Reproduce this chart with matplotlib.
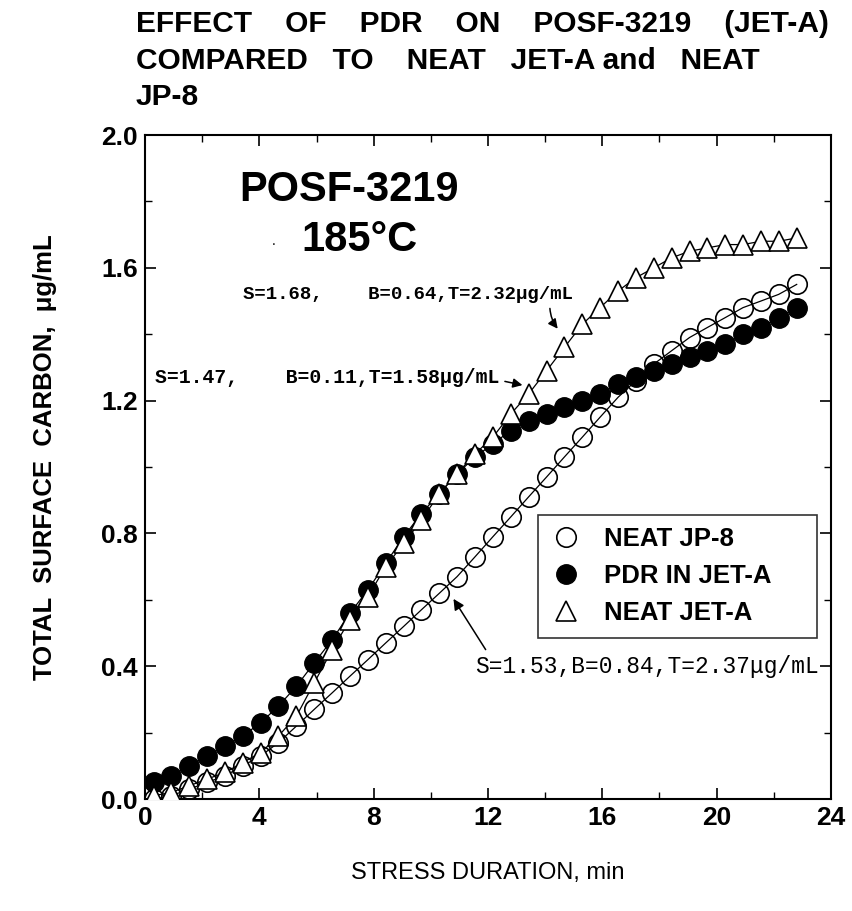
import numpy as np
import matplotlib
matplotlib.use('Agg')
from matplotlib import pyplot as plt
from matplotlib.ticker import MultipleLocator, FormatStrFormatter

plt.rcParams['font.family'] = ['Liberation Sans', 'DejaVu Sans']

# stress duration, min
t = [0.3, 0.92, 1.55, 2.17, 2.8, 3.42, 4.05, 4.67, 5.3, 5.92, 6.55, 7.17,
     7.8, 8.42, 9.05, 9.67, 10.3, 10.92, 11.55, 12.17, 12.8, 13.42, 14.05,
     14.67, 15.3, 15.92, 16.55, 17.17, 17.8, 18.42, 19.05, 19.67, 20.3,
     20.92, 21.55, 22.17, 22.8]

# total surface carbon, ug/mL
jp8 = [0.00, 0.01, 0.03, 0.05, 0.07, 0.10, 0.13, 0.17, 0.22, 0.27, 0.32, 0.37,
       0.42, 0.47, 0.52, 0.57, 0.62, 0.67, 0.73, 0.79, 0.85, 0.91, 0.97,
       1.03, 1.09, 1.15, 1.21, 1.26, 1.31, 1.35, 1.39, 1.42, 1.45,
       1.48, 1.50, 1.52, 1.55]
pdr = [0.05, 0.07, 0.10, 0.13, 0.16, 0.19, 0.23, 0.28, 0.34, 0.41, 0.48, 0.56,
       0.63, 0.71, 0.79, 0.86, 0.92, 0.98, 1.03, 1.07, 1.11, 1.14, 1.16,
       1.18, 1.20, 1.22, 1.25, 1.27, 1.29, 1.31, 1.33, 1.35, 1.37,
       1.40, 1.42, 1.45, 1.48]
jeta = [0.01, 0.02, 0.04, 0.06, 0.08, 0.11, 0.14, 0.19, 0.25, 0.35, 0.45, 0.54,
        0.61, 0.70, 0.77, 0.84, 0.92, 0.98, 1.04, 1.09, 1.16, 1.22, 1.29,
        1.36, 1.43, 1.48, 1.53, 1.57, 1.60, 1.63, 1.65, 1.66, 1.67,
        1.67, 1.68, 1.68, 1.69]

labels = ['NEAT JP-8', 'PDR IN JET-A', 'NEAT JET-A']
fits = ['S=1.68,    B=0.64,T=2.32\u03bcg/mL',
        'S=1.47,    B=0.11,T=1.58\u03bcg/mL',
        'S=1.53,B=0.84,T=2.37\u03bcg/mL']

fig = plt.figure(figsize=(8.53, 9.11), dpi=100)
ax = fig.add_axes([0.170, 0.1229, 0.8042, 0.7289])

ms = 14
ax.plot(t, jp8, color='k', lw=0.9, marker='o', ms=ms, mfc='none',
        mec='k', mew=1.2, label=labels[0], zorder=3)
ax.plot(t, pdr, color='k', lw=0.9, marker='o', ms=ms, mfc='k',
        mec='k', label=labels[1], zorder=4)
ax.plot(t, jeta, color='k', lw=0.9, marker='^', ms=ms + 1, mfc='white',
        mec='k', mew=1.2, label=labels[2], zorder=5)

ax.set_xlim(0, 24)
ax.set_ylim(0, 2.0)
ax.xaxis.set_major_locator(MultipleLocator(4))
ax.xaxis.set_minor_locator(MultipleLocator(2))
ax.yaxis.set_major_locator(MultipleLocator(0.4))
ax.yaxis.set_minor_locator(MultipleLocator(0.2))
ax.yaxis.set_major_formatter(FormatStrFormatter('%.1f'))
ax.tick_params(which='both', direction='in', top=True, right=True)
ax.tick_params(which='major', length=8, width=1.2, labelsize=19, pad=5)
ax.tick_params(which='minor', length=5, width=1)
for lab in ax.get_xticklabels() + ax.get_yticklabels():
    lab.set_fontweight('bold')
for s in ax.spines.values():
    s.set_linewidth(1.5)

ax.set_xlabel('STRESS DURATION, min', fontsize=17)
ax.xaxis.set_label_coords(0.5, -0.095)
ax.set_ylabel('TOTAL  SURFACE  CARBON,  \u03bcg/mL', fontsize=18.5,
              fontweight='bold')
ax.yaxis.set_label_coords(-0.128, 0.515)

fig.text(0.159, 0.989, 'EFFECT    OF    PDR    ON    POSF-3219    (JET-A)\n'
         'COMPARED   TO    NEAT   JET-A and   NEAT\nJP-8',
         fontsize=21.5, fontweight='bold', va='top', ha='left',
         linespacing=1.39)

ax.text(3.3, 1.80, 'POSF-3219', fontsize=30, fontweight='bold', ha='left')
ax.text(7.5, 1.65, '185\u00b0C', fontsize=30, fontweight='bold', ha='center')
ax.text(4.5, 1.67, '.', fontsize=10, ha='center')

mono = ['Liberation Mono', 'DejaVu Sans Mono']
ax.annotate(fits[0], xy=(14.5, 1.41), xytext=(3.43, 1.52), fontsize=13.7,
            family=mono, fontweight='bold', va='center',
            arrowprops=dict(arrowstyle='-|>', color='k', lw=1.1,
                            relpos=(0.93, 0.0), mutation_scale=14,
                            connectionstyle='arc3,rad=0.2'))
ax.annotate(fits[1], xy=(13.3, 1.245), xytext=(0.35, 1.27), fontsize=14.2,
            family=mono, fontweight='bold', va='center',
            arrowprops=dict(arrowstyle='-|>', color='k', lw=1.1,
                            relpos=(1.0, 0.35), mutation_scale=14))
ax.annotate(fits[2], xy=(10.74, 0.61), xytext=(11.55, 0.40), fontsize=16.5,
            family=mono, va='center',
            arrowprops=dict(arrowstyle='-|>', color='k', lw=1.1,
                            relpos=(0.04, 1.0), mutation_scale=16))

leg = ax.legend(loc='lower left',
                bbox_to_anchor=(13.75 / 24, 0.485 / 2, 9.75 / 24, 0.375 / 2),
                mode='expand', frameon=True, fancybox=False, edgecolor='k',
                fontsize=18.5, handlelength=1.2, handletextpad=0.85,
                borderpad=0.5, labelspacing=0.5, borderaxespad=0)
for h in leg.legend_handles:
    h.set_linestyle('none')
leg.get_frame().set_linewidth(1.2)
for txt in leg.get_texts():
    txt.set_fontweight('bold')

fig.savefig('out.png', dpi=100)
